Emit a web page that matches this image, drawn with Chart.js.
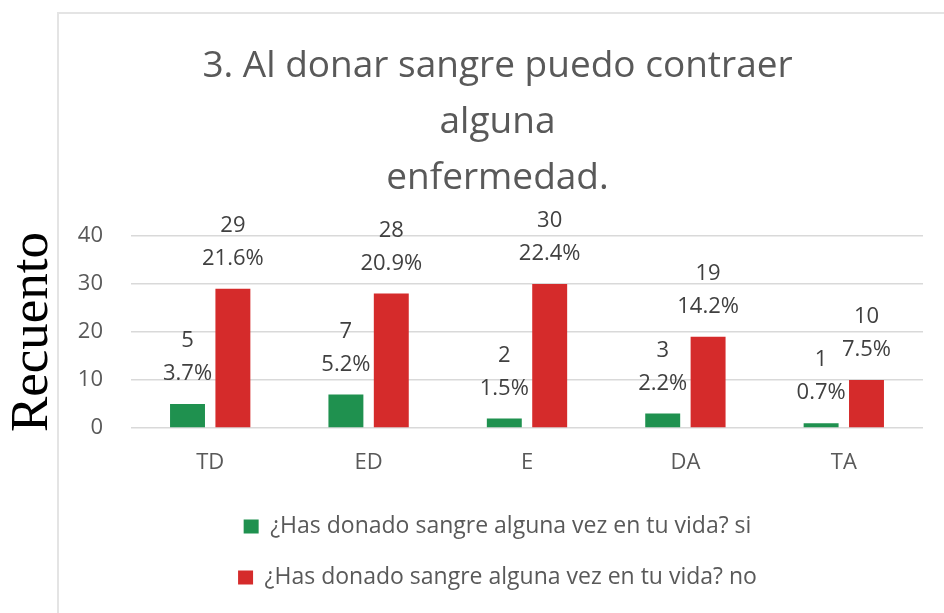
<!DOCTYPE html>
<html>
<head>
<meta charset="utf-8">
<script src="https://cdn.jsdelivr.net/npm/chart.js@4/dist/chart.umd.min.js"></script>
<style>
  html, body { margin: 0; padding: 0; background: #fff; }
  #wrap { position: relative; width: 944px; height: 613px; overflow: hidden; }
  #frame { position: absolute; left: 57px; top: 12px; width: 900px; height: 620px;
           border-top: 2px solid #e4e4e4; border-left: 2px solid #e4e4e4; }
  canvas { position: absolute; left: 0; top: 0; }
</style>
</head>
<body>
<div id="wrap">
  <div id="frame"></div>
  <canvas id="c" width="944" height="613"></canvas>
</div>
<script>
// ---- data ----
const titleLines = ['3. Al donar sangre puedo contraer', 'alguna', 'enfermedad.'];
const categories = ['TD', 'ED', 'E', 'DA', 'TA'];
const seriesNames = ['¿Has donado sangre alguna vez en tu vida? si',
                     '¿Has donado sangre alguna vez en tu vida? no'];
const countSi = [5, 7, 2, 3, 1];
const countNo = [29, 28, 30, 19, 10];
const pctSi = ['3.7%', '5.2%', '1.5%', '2.2%', '0.7%'];
const pctNo = ['21.6%', '20.9%', '22.4%', '14.2%', '7.5%'];
const yAxisTitle = 'Recuento';
const yMin = 0, yMax = 40, yStep = 10;

const GREEN = '#1f914f';
const RED = '#d52b2b';
const FONT = "'Open Sans', 'Noto Sans', sans-serif";

const pctLabels = [pctSi, pctNo];

const barLabelPlugin = {
  id: 'barLabels',
  afterDatasetsDraw(chart) {
    const ctx = chart.ctx;
    ctx.save();
    ctx.font = '22px ' + FONT;
    ctx.fillStyle = '#404040';
    ctx.textAlign = 'center';
    ctx.textBaseline = 'middle';
    chart.data.datasets.forEach((ds, di) => {
      const meta = chart.getDatasetMeta(di);
      meta.data.forEach((bar, i) => {
        const p = bar.getProps(['x', 'y'], true);
        ctx.fillText(pctLabels[di][i], p.x, p.y - 30);
        ctx.fillText(String(ds.data[i]), p.x, p.y - 63);
      });
    });
    ctx.restore();
  }
};

new Chart(document.getElementById('c'), {
  type: 'bar',
  data: {
    labels: categories,
    datasets: [
      { label: seriesNames[0], data: countSi, backgroundColor: GREEN,
        categoryPercentage: 0.573, barPercentage: 0.77 },
      { label: seriesNames[1], data: countNo, backgroundColor: RED,
        categoryPercentage: 0.573, barPercentage: 0.77 }
    ]
  },
  options: {
    responsive: false,
    animation: false,
    devicePixelRatio: 1,
    layout: { padding: { left: 72, right: 21, top: 0, bottom: 14 } },
    plugins: {
      tooltip: { enabled: false },
      title: {
        display: true,
        text: titleLines,
        color: '#595959',
        font: { family: FONT, size: 37, weight: 'normal', lineHeight: 1.5135 },
        padding: { top: 38, bottom: 30 }
      },
      legend: {
        position: 'bottom',
        labels: {
          color: '#595959',
          font: { family: FONT, size: 23 },
          boxWidth: 15,
          boxHeight: 14,
          padding: 28
        }
      }
    },
    scales: {
      x: {
        grid: { display: false, drawTicks: false },
        border: { display: false },
        ticks: { color: '#595959', font: { family: FONT, size: 22 }, padding: 22 },
        afterFit(scale) { scale.height = 59; }
      },
      y: {
        min: yMin, max: yMax,
        grid: { color: '#d9d9d9', lineWidth: 1.5, drawTicks: false },
        border: { display: false },
        ticks: { stepSize: yStep, color: '#595959', font: { family: FONT, size: 22 }, padding: 28 },
        title: {
          display: true,
          text: yAxisTitle,
          color: '#000000',
          font: { family: "'Liberation Serif', 'Times New Roman', serif", size: 53, lineHeight: 1.2 },
          padding: { top: -71, bottom: 0 }
        },
        afterFit(scale) { scale.width = 59; }
      }
    }
  },
  plugins: [barLabelPlugin]
});
</script>
</body>
</html>
